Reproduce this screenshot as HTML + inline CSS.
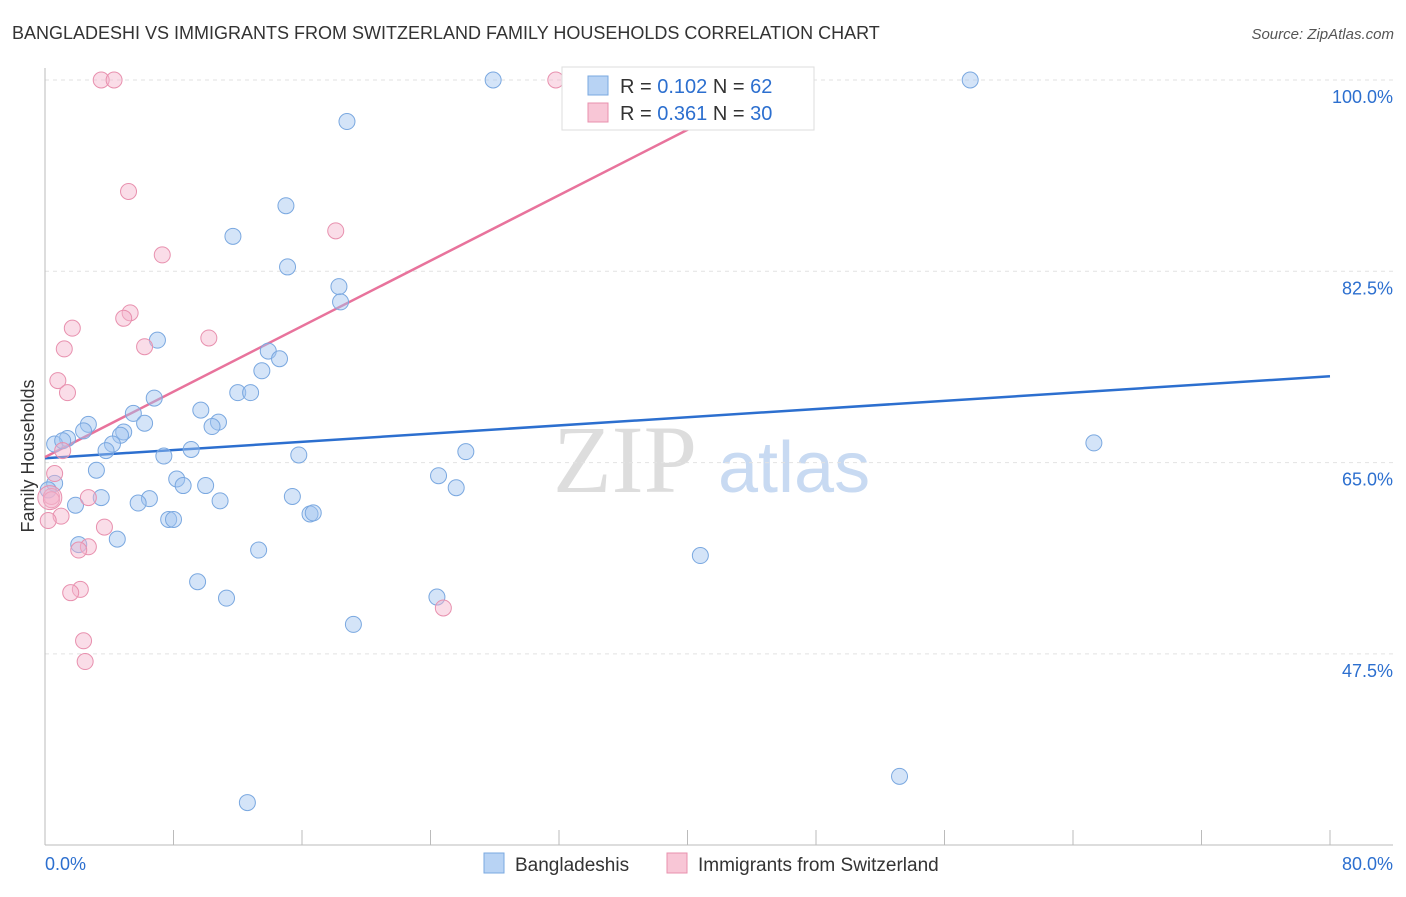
<!DOCTYPE html>
<html><head><meta charset="utf-8"><style>
body{margin:0;background:#fff;font-family:"Liberation Sans",sans-serif}
svg text{font-family:"Liberation Sans",sans-serif}
</style></head><body>
<svg id="chart" width="1406" height="892" xmlns="http://www.w3.org/2000/svg">
<text x="12" y="39" font-size="18" fill="#333">BANGLADESHI VS IMMIGRANTS FROM SWITZERLAND FAMILY HOUSEHOLDS CORRELATION CHART</text>
<text x="1394" y="39" font-size="15" fill="#555" font-style="italic" text-anchor="end">Source: ZipAtlas.com</text>
<text transform="translate(34,456) rotate(-90)" font-size="18" fill="#333" text-anchor="middle">Family Households</text>
<g>
<text x="553" y="492" font-size="96" fill="#ddd" font-family="Liberation Serif" style="font-family:'Liberation Serif',serif">ZIP</text>
<text x="718" y="492" font-size="72" fill="#c8daf2">atlas</text>
</g>
<g id="grid"></g><g id="axes"></g><g id="lines"></g><g id="points"></g>
<g>
<rect x="562" y="67" width="252" height="63" fill="#fff" stroke="#ddd"/>
<rect x="588" y="76" width="20" height="19" fill="#b8d3f4" stroke="#7aa8e0"/>
<text x="620" y="93" font-size="20" fill="#333">R = <tspan fill="#2c6fcf">0.102</tspan>   N = <tspan fill="#2c6fcf">62</tspan></text>
<rect x="588" y="103" width="20" height="19" fill="#f8c6d6" stroke="#e890ae"/>
<text x="620" y="120" font-size="20" fill="#333">R = <tspan fill="#2c6fcf">0.361</tspan>   N = <tspan fill="#2c6fcf">30</tspan></text>
</g>
<g>
<rect x="484" y="853" width="20" height="20" fill="#b8d3f4" stroke="#7aa8e0"/>
<text x="515" y="871" font-size="19" fill="#333">Bangladeshis</text>
<rect x="667" y="853" width="20" height="20" fill="#f8c6d6" stroke="#e890ae"/>
<text x="698" y="871" font-size="19" fill="#333">Immigrants from Switzerland</text>
</g>
</svg>
<script>
const yTicks=[100,82.5,65,47.5];
const yTickLabels=["100.0%","82.5%","65.0%","47.5%"];
const xTickLabels=["0.0%","80.0%"];
const blueX=[27.9,57.6,18.8,15.0,11.7,15.1,18.3,18.4,7.0,13.9,14.6,13.5,12.0,12.8,6.8,5.5,9.7,6.2,2.7,10.8,10.4,2.4,4.9,4.7,1.4,0.6,1.1,4.2,3.8,9.1,7.4,15.8,26.2,65.3,3.2,8.2,24.5,8.6,10.0,25.6,0.6,0.2,3.5,15.4,6.5,5.8,10.9,1.9,16.5,16.7,7.7,8.0,4.5,2.1,13.3,40.8,9.5,11.3,24.4,19.2,53.2,12.6];
const blueY=[100,100,96.2,88.5,85.7,82.9,81.1,79.7,76.2,75.2,74.5,73.4,71.4,71.4,70.9,69.5,69.8,68.6,68.5,68.7,68.3,67.9,67.8,67.5,67.2,66.7,67.0,66.7,66.1,66.2,65.6,65.7,66.0,66.8,64.3,63.5,63.8,62.9,62.9,62.7,63.1,62.5,61.8,61.9,61.7,61.3,61.5,61.1,60.3,60.4,59.8,59.8,58.0,57.5,57.0,56.5,54.1,52.6,52.7,50.2,36.3,33.9];
const pinkX=[3.5,4.3,31.8,5.2,18.1,7.3,5.3,4.9,1.7,10.2,6.2,1.2,0.8,1.4,0.6,1.1,0.4,0.4,1.0,0.2,3.7,2.7,2.7,2.1,2.2,1.6,2.4,2.5,24.8,0.3];
const pinkY=[100,100,100,89.8,86.2,84.0,78.7,78.2,77.3,76.4,75.6,75.4,72.5,71.4,64.0,66.1,61.9,61.6,60.1,59.7,59.1,61.8,57.3,57.0,53.4,53.1,48.7,46.8,51.7,61.8];
const blueTrend=[65.4,72.9];   // y at x=0 and x=80
const pinkTrend=[65.5,95.6,40.2]; // y at x=0, y at x end, x end
const NS="http://www.w3.org/2000/svg";
const sx=v=>45+v*1285/80;
const sy=v=>80+(100-v)*191.3/17.5;
function mk(tag,attrs,parent){const e=document.createElementNS(NS,tag);for(const k in attrs)e.setAttribute(k,attrs[k]);document.getElementById(parent).appendChild(e);return e;}
yTicks.forEach((t,i)=>{
 const g=mk('line',{x1:45,x2:1393,y1:sy(t),y2:sy(t),stroke:'#e2e2e2','stroke-dasharray':'4,4'},'grid');
 
 
 const l=mk('text',{x:1393,y:sy(t)+23,'font-size':18,fill:'#2c6fcf','text-anchor':'end'},'axes');
 l.textContent=yTickLabels[i];
 
 
});
const ax=mk('line',{x1:45,x2:45,y1:68,y2:845,stroke:'#bbb'},'axes');


const bx=mk('line',{x1:45,x2:1393,y1:845,y2:845,stroke:'#bbb'},'axes');


for(let i=0;i<=10;i++){const t=mk('line',{x1:sx(i*8),x2:sx(i*8),y1:830,y2:845,stroke:'#bbb'},'axes');
 
 }
const xl0=mk('text',{x:45,y:870,'font-size':18,fill:'#2c6fcf'},'axes');xl0.textContent=xTickLabels[0];


const xl1=mk('text',{x:1393,y:870,'font-size':18,fill:'#2c6fcf','text-anchor':'end'},'axes');xl1.textContent=xTickLabels[1];


blueX.forEach((x,i)=>{const c=mk('circle',{cx:sx(x),cy:sy(blueY[i]),r:8,fill:'rgba(160,195,240,0.45)',stroke:'#7aa8e0','stroke-width':1},'points');
 
 });
pinkX.forEach((x,i)=>{const c=mk('circle',{cx:sx(x),cy:sy(pinkY[i]),r:i===pinkX.length-1?12:8,fill:'rgba(245,180,205,0.45)',stroke:'#e890ae','stroke-width':1},'points');
 
 });
const bl=mk('line',{x1:sx(0),y1:sy(blueTrend[0]),x2:sx(80),y2:sy(blueTrend[1]),stroke:'#2c6fcf','stroke-width':2.5},'lines');


const pl=mk('line',{x1:sx(0),y1:sy(pinkTrend[0]),x2:sx(pinkTrend[2]),y2:sy(pinkTrend[1]),stroke:'#e8739c','stroke-width':2.5},'lines');


</script>
</body></html>
